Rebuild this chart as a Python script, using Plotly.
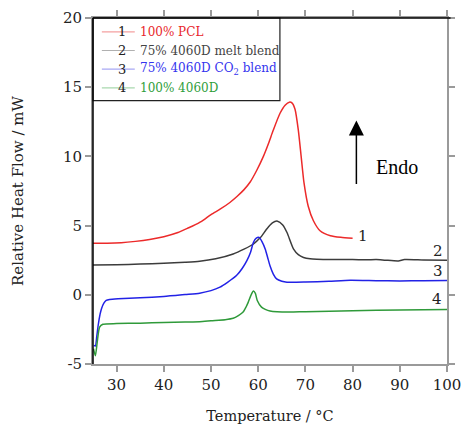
import plotly.graph_objects as go

# ---- data ----
t_pcl = [25, 28, 31, 34, 37, 40, 43, 45, 46, 48, 50, 52, 54, 55.5, 57, 58.3, 59.7, 61.1, 62.2, 63.2, 64.6,
         65.7, 66.6, 67.2, 67.8, 68.5, 69.1, 69.7, 70.6, 71.7, 73.1, 75.3, 77.5, 80]
v_pcl = [3.72, 3.72, 3.76, 3.86, 4.0, 4.2, 4.5, 4.8, 4.95, 5.3, 5.8, 6.2, 6.67, 7.1, 7.6, 8.15, 9.0, 10.0,
         10.95, 11.9, 13.1, 13.7, 13.92, 13.85, 13.4, 11.9, 10.0, 8.1, 6.4, 5.35, 4.63, 4.27, 4.15, 4.08]

t_melt = [25, 30, 35, 40, 44.5, 47.6, 51, 54.7, 57, 59, 60.5, 61.8, 63, 64.1, 65.2, 66.1, 67.5, 68.5, 69.6,
          71, 72.4, 76, 80, 83, 85, 87, 89.7, 91, 95, 100]
v_melt = [2.16, 2.18, 2.22, 2.28, 2.35, 2.42, 2.6, 2.95, 3.3, 3.67, 4.15, 4.75, 5.2, 5.32, 5.05, 4.5, 3.3,
          2.9, 2.7, 2.6, 2.57, 2.55, 2.55, 2.53, 2.55, 2.5, 2.45, 2.55, 2.52, 2.5]

t_co2 = [25.2, 25.5, 25.8, 26.1, 26.5, 26.8, 27.3, 27.8, 28.5, 30.3, 35, 40, 44.5, 47.6, 50, 51.9, 53.5,
         55.4, 56.6, 57.6, 58.4, 59, 59.6, 60.2, 60.8, 61.5, 62.0, 62.5, 63.2, 63.9, 65, 66.1, 70, 75,
         79.5, 85, 90, 95, 100]
v_co2 = [-3.65, -3.7, -3.0, -2.2, -1.4, -1.0, -0.6, -0.41, -0.34, -0.29, -0.22, -0.12, 0.02, 0.12, 0.3,
         0.55, 0.9, 1.39, 1.9, 2.47, 3.1, 3.8, 4.1, 4.15, 3.85, 3.3, 2.7, 2.1, 1.5, 1.15, 0.98, 0.91, 0.92,
         0.98, 1.05, 1.02, 1.0, 1.02, 1.03]

t_pure = [25.1, 25.5, 25.9, 26.4, 27.1, 30, 35, 40, 44.5, 47.6, 50, 53, 54.7, 55.8, 56.8, 57.4, 57.9, 58.5,
          59.0, 59.4, 59.8, 60.7, 61.5, 62.5, 64, 66.8, 70, 80, 90, 100]
v_pure = [-3.9, -4.41, -3.4, -2.33, -2.13, -2.08, -2.05, -2.0, -1.97, -1.95, -1.88, -1.8, -1.7, -1.5,
          -1.25, -0.9, -0.53, 0.0, 0.27, 0.1, -0.41, -0.89, -1.05, -1.17, -1.23, -1.25, -1.22, -1.15,
          -1.1, -1.06]

series_names = ["100% PCL", "75% 4060D melt blend", "75% 4060D CO<sub>2</sub> blend", "100% 4060D"]
series_ids = ["1", "2", "3", "4"]
# curve-end labels: (T, value)
label_t = [82.2, 98.1, 98.1, 97.9]
label_v = [4.25, 3.2, 1.7, -0.3]

x_ticks = [30, 40, 50, 60, 70, 80, 90, 100]
y_ticks = [-5, 0, 5, 10, 15, 20]

line_colors = ["#ec2a2a", "#3c3c3c", "#2222e6", "#2f9a3a"]
text_colors = ["#e8262b", "#444444", "#3434ee", "#2f9e3a"]
faint_colors = ["#f4a0a0", "#b0b0b0", "#a8a8f4", "#a8d8ae"]

SERIF = "DejaVu Serif"
GREY = "#9a9a9a"

fig = go.Figure()
for t, v, c, n in zip([t_pcl, t_melt, t_co2, t_pure], [v_pcl, v_melt, v_co2, v_pure], line_colors, series_names):
    fig.add_trace(go.Scatter(x=t, y=v, mode="lines", name=n,
                             line=dict(color=c, width=1.5, shape="spline", smoothing=0.6),
                             showlegend=False))

# curve-end numbers
for i in range(4):
    fig.add_annotation(x=label_t[i], y=label_v[i], text=series_ids[i], showarrow=False,
                       font=dict(family=SERIF, size=15, color="#222"))

# Endo arrow and text
fig.add_annotation(x=80.8, y=12.6, ax=80.8, ay=7.5, axref="x", ayref="y", text=" ",
                   font=dict(size=10),
                   showarrow=True, arrowhead=2, arrowsize=2, arrowwidth=1.5, arrowcolor="black")
fig.add_annotation(x=89.3, y=9.2, text="Endo", showarrow=False,
                   font=dict(family="Liberation Serif", size=20, color="black"))

# manual legend
shapes = [
    dict(type="rect", xref="paper", yref="paper", x0=0, x1=0.528, y0=0.761, y1=1,
         line=dict(color="#222", width=1.2), fillcolor="white", layer="above"),
]
row_y = [0.960, 0.906, 0.852, 0.798]
for i in range(4):
    shapes.append(dict(type="line", xref="paper", yref="paper", x0=0.025, x1=0.118, y0=row_y[i], y1=row_y[i],
                       line=dict(color=faint_colors[i], width=1.2), layer="above"))
    fig.add_annotation(xref="paper", yref="paper", x=0.083, y=row_y[i], text=series_ids[i], showarrow=False,
                       font=dict(family=SERIF, size=13, color="#222"), xanchor="center", yanchor="middle")
    fig.add_annotation(xref="paper", yref="paper", x=0.127, y=row_y[i], text=series_names[i], showarrow=False,
                       font=dict(family=SERIF, size=12, color=text_colors[i]), xanchor="left",
                       yanchor="middle")

# black left and top frame lines
shapes.append(dict(type="line", xref="paper", yref="paper", x0=0, x1=1.01, y0=1, y1=1,
                   line=dict(color="black", width=1.5), layer="above"))
shapes.append(dict(type="line", xref="paper", yref="paper", x0=0, x1=0, y0=0, y1=1,
                   line=dict(color="black", width=1.5), layer="above"))

fig.update_layout(
    width=462, height=428,
    margin=dict(l=93, r=15, t=18, b=64, autoexpand=False),
    plot_bgcolor="white", paper_bgcolor="white",
    shapes=shapes,
    font=dict(family=SERIF, color="#222"),
    xaxis=dict(range=[25, 100], tickvals=x_ticks, ticktext=[str(v) for v in x_ticks],
               showgrid=False, zeroline=False, showline=True, linecolor=GREY, linewidth=2,
               mirror="allticks", ticks="outside", ticklen=6, tickwidth=1.5, tickcolor=GREY,
               automargin=False,
               tickfont=dict(family=SERIF, size=15, color="#222"),
               title=dict(text="Temperature / °C", font=dict(family=SERIF, size=14.5, color="#222"),
                          standoff=18)),
    yaxis=dict(range=[-5, 20], tickvals=y_ticks, ticktext=[str(v) for v in y_ticks],
               showgrid=False, zeroline=False, showline=True, linecolor=GREY, linewidth=2,
               mirror="allticks", ticks="outside", ticklen=6, tickwidth=1.5, tickcolor=GREY,
               automargin=False,
               tickfont=dict(family=SERIF, size=15, color="#222"),
               title=dict(text="Relative Heat Flow / mW", font=dict(family=SERIF, size=15, color="#222"),
                          standoff=36)),
)

fig.write_html("out.html", config={"displayModeBar": False},
               post_script="document.body.style.margin='0';document.body.style.overflow='hidden';")
